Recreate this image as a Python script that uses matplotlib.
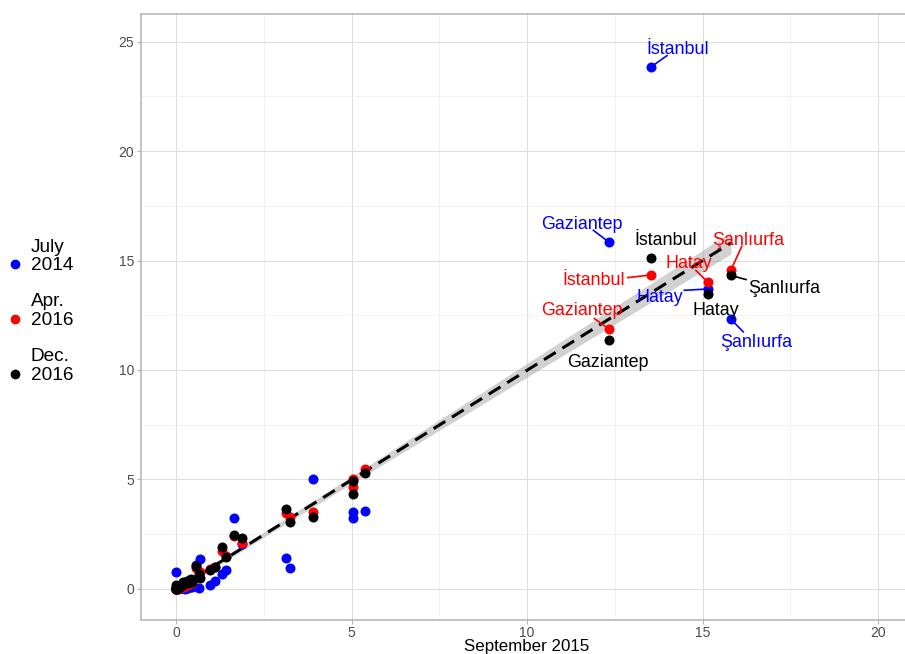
import numpy as np
import matplotlib
matplotlib.use("Agg")
import matplotlib.pyplot as plt
from matplotlib.ticker import MultipleLocator

plt.rcParams["font.family"] = ["Liberation Sans", "DejaVu Sans"]

# Share of registered Syrians by province (%), Sept. 2015 vs. three other dates
province = ["İstanbul", "Gaziantep", "Hatay", "Şanlıurfa"] + [""] * 77
sep2015 = [13.53, 12.34, 15.16, 15.81, 5.38, 5.03, 5.03, 3.89, 3.12, 3.25,
           1.65, 1.88, 1.30, 1.42, 1.10, 0.97, 0.68, 0.57, 0.66, 0.00,
           0.26, 0.21, 0.10, 0.05, 0.35, 0.45, 0.02, 0.03,
           0.01, 0.02, 0.04, 0.06, 0.08, 0.09, 0.11, 0.12, 0.14, 0.15,
           0.16, 0.18, 0.19, 0.22, 0.24, 0.28, 0.31, 0.33, 0.38, 0.42,
           0.01, 0.03, 0.05, 0.07, 0.02, 0.04, 0.06, 0.08, 0.13, 0.17,
           0.20, 0.23, 0.27, 0.01, 0.02, 0.03, 0.05, 0.09, 0.11, 0.15,
           0.00, 0.00, 0.01, 0.02, 0.04, 0.07, 0.10, 0.12, 0.18, 0.25,
           0.01, 0.03, 0.06]
jul2014 = [23.84, 15.83, 13.70, 12.32, 3.58, 3.53, 3.22, 5.02, 1.40, 0.97,
           3.23, 2.05, 0.68, 0.87, 0.37, 0.20, 1.37, 1.10, 0.06, 0.79,
           0.00, 0.05, 0.02, 0.00, 0.05, 0.10, 0.00, 0.01,
           0.00, 0.01, 0.02, 0.03, 0.02, 0.04, 0.05, 0.03, 0.06, 0.04,
           0.07, 0.05, 0.08, 0.06, 0.09, 0.07, 0.10, 0.08, 0.12, 0.15,
           0.00, 0.01, 0.02, 0.03, 0.01, 0.02, 0.03, 0.04, 0.05, 0.06,
           0.07, 0.08, 0.09, 0.00, 0.01, 0.02, 0.02, 0.03, 0.04, 0.05,
           0.00, 0.00, 0.00, 0.01, 0.02, 0.03, 0.04, 0.05, 0.06, 0.08,
           0.00, 0.01, 0.02]
apr2016 = [14.34, 11.86, 14.00, 14.57, 5.47, 5.00, 4.67, 3.53, 3.45, 3.30,
           2.40, 2.09, 1.75, 1.50, 1.00, 0.91, 0.75, 0.95, 0.60, 0.03,
           0.15, 0.10, 0.05, 0.02, 0.20, 0.28, 0.00, 0.01,
           0.01, 0.02, 0.03, 0.05, 0.07, 0.08, 0.10, 0.11, 0.12, 0.14,
           0.15, 0.17, 0.18, 0.20, 0.22, 0.25, 0.28, 0.30, 0.34, 0.38,
           0.01, 0.02, 0.04, 0.06, 0.02, 0.03, 0.05, 0.07, 0.12, 0.15,
           0.18, 0.21, 0.24, 0.01, 0.02, 0.03, 0.04, 0.08, 0.10, 0.13,
           0.00, 0.00, 0.01, 0.02, 0.03, 0.06, 0.09, 0.11, 0.16, 0.22,
           0.01, 0.02, 0.05]
dec2016 = [15.13, 11.37, 13.47, 14.32, 5.28, 4.95, 4.32, 3.27, 3.64, 3.05,
           2.47, 2.34, 1.93, 1.45, 1.02, 0.85, 0.49, 1.05, 0.70, 0.20,
           0.30, 0.33, 0.12, 0.06, 0.25, 0.30, 0.02, 0.03,
           0.02, 0.03, 0.05, 0.07, 0.09, 0.10, 0.12, 0.13, 0.15, 0.17,
           0.18, 0.20, 0.21, 0.24, 0.26, 0.30, 0.33, 0.35, 0.40, 0.44,
           0.02, 0.04, 0.06, 0.08, 0.03, 0.05, 0.07, 0.09, 0.14, 0.18,
           0.22, 0.25, 0.29, 0.02, 0.03, 0.04, 0.06, 0.10, 0.12, 0.16,
           0.00, 0.01, 0.02, 0.03, 0.05, 0.08, 0.11, 0.13, 0.19, 0.27,
           0.02, 0.04, 0.07]

series_names = ["July\n2014", "Apr.\n2016", "Dec.\n2016"]
series_values = [jul2014, apr2016, dec2016]
series_colors = ["#0000FF", "#FF0000", "#000000"]

x_ticks = [0, 5, 10, 15, 20]
y_ticks = [0, 5, 10, 15, 20, 25]

# label placement (text centre x, baseline y, optional leader end point)
label_layout = {
    (0, 0): ((14.29, 24.44), (13.99, 24.36)),
    (0, 1): ((11.56, 16.46), (11.89, 16.38)),
    (2, 0): ((13.94, 15.73), None),
    (1, 3): ((16.30, 15.73), (16.12, 15.65)),
    (1, 2): ((14.61, 14.66), (14.81, 14.55)),
    (1, 0): ((11.90, 13.87), (12.87, 14.22)),
    (2, 3): ((17.33, 13.52), (16.24, 14.13)),
    (0, 2): ((13.79, 13.11), (14.48, 13.64)),
    (2, 2): ((15.38, 12.50), None),
    (1, 1): ((11.57, 12.50), (11.92, 12.35)),
    (2, 1): ((12.29, 10.14), None),
    (0, 3): ((16.52, 11.05), (16.16, 11.74)),
}

W, H = 905, 654
fig = plt.figure(figsize=(W / 100, H / 100), dpi=100)
left_px, right_px, top_px, bottom_px = 140.9, 913.1, 14.0, 620.0
ax = fig.add_axes([left_px / W, 1 - bottom_px / H,
                   (right_px - left_px) / W, (bottom_px - top_px) / H])
ax.set_xlim(-1, 21)
ax.set_ylim(-1.42, 26.26)

# grid
ax.xaxis.set_minor_locator(MultipleLocator(2.5))
ax.yaxis.set_minor_locator(MultipleLocator(2.5))
ax.grid(which="major", color="#DEDEDE", linewidth=0.8)
ax.grid(which="minor", color="#EDEDED", linewidth=0.5)
ax.set_axisbelow(True)
for s in ax.spines.values():
    s.set_color("#B3B3B3")
    s.set_linewidth(1.1)
ax.tick_params(which="major", length=3, width=0.8, color="#B3B3B3",
               labelcolor="#4D4D4D", labelsize=10, pad=2)
ax.tick_params(axis="x", which="major", pad=1.5)
ax.tick_params(which="minor", length=0)
ax.set_xticks(x_ticks)
ax.set_yticks(y_ticks)
ax.set_xticklabels([str(t) for t in x_ticks])
ax.set_yticklabels([str(t) for t in y_ticks])
fig.text(0.5 * (left_px + right_px) / W, 1 - 651.5 / H, "September 2015",
         fontsize=12.2, color="black", ha="center", va="baseline")

# linear fit over all observations with 95% band
xs = np.array(sep2015 * 3)
ys = np.concatenate([np.array(v) for v in series_values])
n = len(xs)
b1, b0 = np.polyfit(xs, ys, 1)
resid = ys - (b0 + b1 * xs)
s_err = np.sqrt(np.sum(resid ** 2) / (n - 2))
xg = np.linspace(xs.min(), xs.max(), 80)
se = s_err * np.sqrt(1 / n + (xg - xs.mean()) ** 2 / np.sum((xs - xs.mean()) ** 2))
t975 = 1.97
yg = b0 + b1 * xg
ax.fill_between(xg, yg - t975 * se, yg + t975 * se, color="#999999",
                alpha=0.45, linewidth=0, zorder=2)
ax.plot(xg, yg, color="black", linewidth=2.2, dashes=(4.5, 2.6), zorder=3)

# points
order = [0, 2, 1]
for k in order:
    ax.scatter(sep2015, series_values[k], s=52, color=series_colors[k],
               linewidths=0, zorder=4 + k)

# labels with leader lines
for (k, i), ((tx, ty), seg) in label_layout.items():
    c = series_colors[k]
    if seg is not None:
        ax.plot([sep2015[i], seg[0]], [series_values[k][i], seg[1]],
                color=c, linewidth=1.2, zorder=8)
    ax.text(tx, ty, province[i], color=c, fontsize=12.9, ha="center",
            va="baseline", zorder=9)

# legend on the left
legend_rows = [(251.7, 270.0, 264.0), (306.0, 325.0, 319.0), (360.7, 380.0, 374.0)]
for (l1_px, l2_px, dot_px), name, c in zip(legend_rows, series_names, series_colors):
    l1, l2 = name.split("\n")
    fig.text(31 / W, 1 - l1_px / H, l1, fontsize=13.7, va="baseline", ha="left")
    fig.text(31 / W, 1 - l2_px / H, l2, fontsize=13.7, va="baseline", ha="left")
    fig.lines.append(plt.Line2D([15 / W], [1 - dot_px / H], marker="o",
                                markersize=6, color=c, linestyle="none",
                                transform=fig.transFigure, figure=fig))
    fig.text(15 / W, 1 - (dot_px + 4.5) / H, "a", fontsize=5.5, color=c,
             ha="center", va="baseline")

fig.savefig("out.png", dpi=100)
